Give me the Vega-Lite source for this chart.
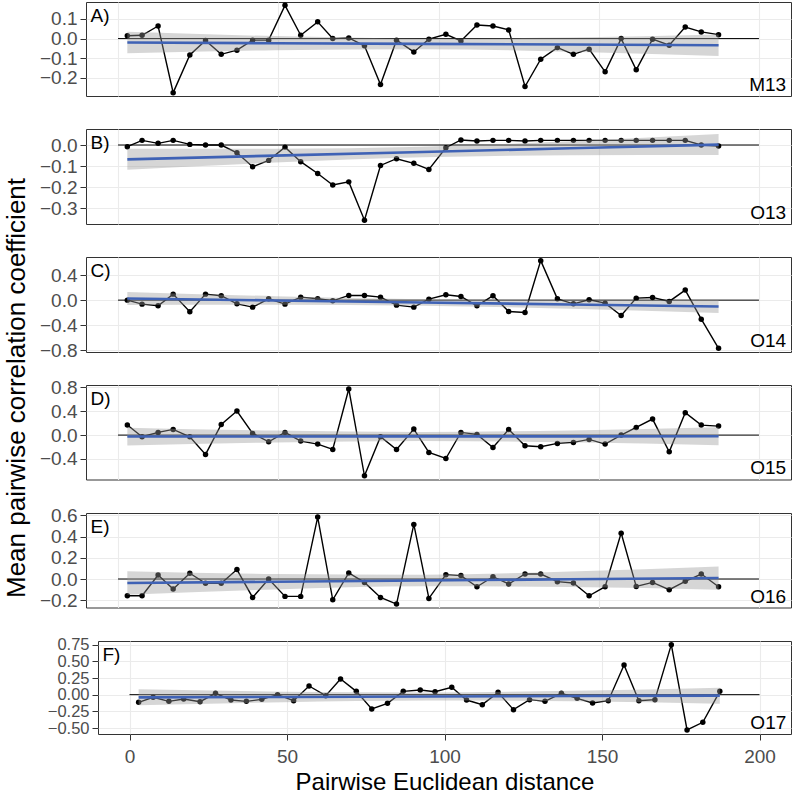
{
  "$schema": "https://vega.github.io/schema/vega-lite/v6.json",
  "padding": {"left": 3, "top": 1, "right": 2, "bottom": 0},
  "title": {"text": "Mean pairwise correlation coefficient", "orient": "left", "anchor": "middle", "fontSize": 26, "fontWeight": "normal", "font": "Liberation Sans", "color": "black", "offset": 3, "dx": 10},
  "spacing": 33,
  "bounds": "flush",
  "datasets": {
    "lab": [
      {"p": "A", "tl": "A)", "br": "M13"},
      {"p": "B", "tl": "B)", "br": "O13"},
      {"p": "C", "tl": "C)", "br": "O14"},
      {"p": "D", "tl": "D)", "br": "O15"},
      {"p": "E", "tl": "E)", "br": "O16"},
      {"p": "F", "tl": "F)", "br": "O17"}
    ],
    "fit": [
      {"p": "A", "x": 2.9, "fit": -0.020, "lo": -0.075, "hi": 0.035},
      {"p": "A", "x": 49, "fit": -0.0235, "lo": -0.0595, "hi": 0.0125},
      {"p": "A", "x": 95, "fit": -0.027, "lo": -0.0545, "hi": 0.0005},
      {"p": "A", "x": 141, "fit": -0.0305, "lo": -0.0665, "hi": 0.0055},
      {"p": "A", "x": 187.4, "fit": -0.034, "lo": -0.089, "hi": 0.021},
      {"p": "B", "x": 2.9, "fit": -0.068, "lo": -0.118, "hi": -0.018},
      {"p": "B", "x": 49, "fit": -0.0505, "lo": -0.0835, "hi": -0.0175},
      {"p": "B", "x": 95, "fit": -0.033, "lo": -0.058, "hi": -0.008},
      {"p": "B", "x": 141, "fit": -0.0156, "lo": -0.0486, "hi": 0.0174},
      {"p": "B", "x": 187.4, "fit": 0.002, "lo": -0.048, "hi": 0.052},
      {"p": "C", "x": 2.9, "fit": 0.027, "lo": -0.078, "hi": 0.132},
      {"p": "C", "x": 49, "fit": -0.005, "lo": -0.074, "hi": 0.064},
      {"p": "C", "x": 95, "fit": -0.037, "lo": -0.089, "hi": 0.015},
      {"p": "C", "x": 141, "fit": -0.070, "lo": -0.139, "hi": -0.001},
      {"p": "C", "x": 187.4, "fit": -0.102, "lo": -0.207, "hi": 0.003},
      {"p": "D", "x": 2.9, "fit": -0.025, "lo": -0.175, "hi": 0.125},
      {"p": "D", "x": 49, "fit": -0.024, "lo": -0.123, "hi": 0.075},
      {"p": "D", "x": 95, "fit": -0.0225, "lo": -0.0975, "hi": 0.0525},
      {"p": "D", "x": 141, "fit": -0.021, "lo": -0.120, "hi": 0.078},
      {"p": "D", "x": 187.4, "fit": -0.020, "lo": -0.170, "hi": 0.130},
      {"p": "E", "x": 2.9, "fit": -0.038, "lo": -0.148, "hi": 0.072},
      {"p": "E", "x": 49, "fit": -0.026, "lo": -0.099, "hi": 0.047},
      {"p": "E", "x": 95, "fit": -0.0145, "lo": -0.0695, "hi": 0.0405},
      {"p": "E", "x": 141, "fit": -0.003, "lo": -0.076, "hi": 0.070},
      {"p": "E", "x": 187.4, "fit": 0.009, "lo": -0.101, "hi": 0.119},
      {"p": "F", "x": 2.9, "fit": -0.040, "lo": -0.160, "hi": 0.080},
      {"p": "F", "x": 49, "fit": -0.034, "lo": -0.113, "hi": 0.045},
      {"p": "F", "x": 95, "fit": -0.0275, "lo": -0.0875, "hi": 0.0325},
      {"p": "F", "x": 141, "fit": -0.021, "lo": -0.100, "hi": 0.058},
      {"p": "F", "x": 187.4, "fit": -0.015, "lo": -0.135, "hi": 0.105}
    ],
    "pts": [
      {"p":"A","x":2.9,"y":0.014},{"p":"A","x":7.5,"y":0.017},{"p":"A","x":12.5,"y":0.064},{"p":"A","x":17.2,"y":-0.275},{"p":"A","x":22.4,"y":-0.083},{"p":"A","x":27.3,"y":-0.010},{"p":"A","x":32.2,"y":-0.080},{"p":"A","x":37.1,"y":-0.059},{"p":"A","x":42.0,"y":-0.008},{"p":"A","x":47.0,"y":-0.008},
      {"p":"A","x":52.1,"y":0.169},{"p":"A","x":57.0,"y":0.017},{"p":"A","x":62.3,"y":0.085},{"p":"A","x":67.0,"y":0.0},{"p":"A","x":72.0,"y":0.003},{"p":"A","x":76.9,"y":-0.037},{"p":"A","x":81.9,"y":-0.234},{"p":"A","x":86.9,"y":-0.008},{"p":"A","x":92.3,"y":-0.068},{"p":"A","x":97.0,"y":-0.003},
      {"p":"A","x":102.3,"y":0.022},{"p":"A","x":107.0,"y":-0.012},{"p":"A","x":112.0,"y":0.069},{"p":"A","x":117.0,"y":0.064},{"p":"A","x":121.9,"y":0.044},{"p":"A","x":127.0,"y":-0.244},{"p":"A","x":131.9,"y":-0.105},{"p":"A","x":137.1,"y":-0.046},{"p":"A","x":142.1,"y":-0.080},{"p":"A","x":147.0,"y":-0.054},
      {"p":"A","x":152.0,"y":-0.169},{"p":"A","x":157.0,"y":0.0},{"p":"A","x":161.7,"y":-0.159},{"p":"A","x":166.8,"y":-0.003},{"p":"A","x":172.0,"y":-0.034},{"p":"A","x":177.0,"y":0.059},{"p":"A","x":182.0,"y":0.034},{"p":"A","x":187.4,"y":0.020},
      {"p":"B","x":2.9,"y":-0.008},{"p":"B","x":7.5,"y":0.022},{"p":"B","x":12.5,"y":0.008},{"p":"B","x":17.2,"y":0.022},{"p":"B","x":22.4,"y":0.003},{"p":"B","x":27.3,"y":0.0},{"p":"B","x":32.2,"y":0.0},{"p":"B","x":37.1,"y":-0.037},{"p":"B","x":42.0,"y":-0.103},{"p":"B","x":47.0,"y":-0.073},
      {"p":"B","x":52.1,"y":-0.010},{"p":"B","x":57.0,"y":-0.079},{"p":"B","x":62.3,"y":-0.135},{"p":"B","x":67.0,"y":-0.190},{"p":"B","x":72.0,"y":-0.175},{"p":"B","x":76.9,"y":-0.357},{"p":"B","x":81.9,"y":-0.097},{"p":"B","x":86.9,"y":-0.065},{"p":"B","x":92.3,"y":-0.087},{"p":"B","x":97.0,"y":-0.116},
      {"p":"B","x":102.3,"y":-0.013},{"p":"B","x":107.0,"y":0.024},{"p":"B","x":112.0,"y":0.019},{"p":"B","x":117.0,"y":0.022},{"p":"B","x":121.9,"y":0.022},{"p":"B","x":127.0,"y":0.019},{"p":"B","x":131.9,"y":0.022},{"p":"B","x":137.1,"y":0.022},{"p":"B","x":142.1,"y":0.022},{"p":"B","x":147.0,"y":0.022},
      {"p":"B","x":152.0,"y":0.022},{"p":"B","x":157.0,"y":0.022},{"p":"B","x":161.7,"y":0.022},{"p":"B","x":166.8,"y":0.022},{"p":"B","x":172.0,"y":0.022},{"p":"B","x":177.0,"y":0.022},{"p":"B","x":182.0,"y":0.0},{"p":"B","x":187.4,"y":-0.005},
      {"p":"C","x":2.9,"y":0.0},{"p":"C","x":7.5,"y":-0.064},{"p":"C","x":12.5,"y":-0.091},{"p":"C","x":17.2,"y":0.096},{"p":"C","x":22.4,"y":-0.187},{"p":"C","x":27.3,"y":0.096},{"p":"C","x":32.2,"y":0.070},{"p":"C","x":37.1,"y":-0.059},{"p":"C","x":42.0,"y":-0.112},{"p":"C","x":47.0,"y":0.021},
      {"p":"C","x":52.1,"y":-0.064},{"p":"C","x":57.0,"y":0.048},{"p":"C","x":62.3,"y":0.021},{"p":"C","x":67.0,"y":-0.011},{"p":"C","x":72.0,"y":0.075},{"p":"C","x":76.9,"y":0.075},{"p":"C","x":81.9,"y":0.048},{"p":"C","x":86.9,"y":-0.080},{"p":"C","x":92.3,"y":-0.112},{"p":"C","x":97.0,"y":0.016},
      {"p":"C","x":102.3,"y":0.086},{"p":"C","x":107.0,"y":0.059},{"p":"C","x":112.0,"y":-0.091},{"p":"C","x":117.0,"y":0.070},{"p":"C","x":121.9,"y":-0.182},{"p":"C","x":127.0,"y":-0.198},{"p":"C","x":131.9,"y":0.632},{"p":"C","x":137.1,"y":0.021},{"p":"C","x":142.1,"y":-0.059},{"p":"C","x":147.0,"y":0.005},
      {"p":"C","x":152.0,"y":-0.048},{"p":"C","x":157.0,"y":-0.246},{"p":"C","x":161.7,"y":0.032},{"p":"C","x":166.8,"y":0.043},{"p":"C","x":172.0,"y":-0.021},{"p":"C","x":177.0,"y":0.161},{"p":"C","x":182.0,"y":-0.305},{"p":"C","x":187.4,"y":-0.771},
      {"p":"D","x":2.9,"y":0.168},{"p":"D","x":7.5,"y":-0.028},{"p":"D","x":12.5,"y":0.045},{"p":"D","x":17.2,"y":0.095},{"p":"D","x":22.4,"y":-0.028},{"p":"D","x":27.3,"y":-0.325},{"p":"D","x":32.2,"y":0.179},{"p":"D","x":37.1,"y":0.404},{"p":"D","x":42.0,"y":0.028},{"p":"D","x":47.0,"y":-0.112},
      {"p":"D","x":52.1,"y":0.045},{"p":"D","x":57.0,"y":-0.101},{"p":"D","x":62.3,"y":-0.151},{"p":"D","x":67.0,"y":-0.241},{"p":"D","x":72.0,"y":0.774},{"p":"D","x":76.9,"y":-0.684},{"p":"D","x":81.9,"y":-0.028},{"p":"D","x":86.9,"y":-0.241},{"p":"D","x":92.3,"y":0.101},{"p":"D","x":97.0,"y":-0.292},
      {"p":"D","x":102.3,"y":-0.393},{"p":"D","x":107.0,"y":0.045},{"p":"D","x":112.0,"y":0.011},{"p":"D","x":117.0,"y":-0.208},{"p":"D","x":121.9,"y":0.095},{"p":"D","x":127.0,"y":-0.179},{"p":"D","x":131.9,"y":-0.196},{"p":"D","x":137.1,"y":-0.140},{"p":"D","x":142.1,"y":-0.123},{"p":"D","x":147.0,"y":-0.073},
      {"p":"D","x":152.0,"y":-0.151},{"p":"D","x":157.0,"y":0.0},{"p":"D","x":161.7,"y":0.129},{"p":"D","x":166.8,"y":0.269},{"p":"D","x":172.0,"y":-0.280},{"p":"D","x":177.0,"y":0.376},{"p":"D","x":182.0,"y":0.168},{"p":"D","x":187.4,"y":0.151},
      {"p":"E","x":2.9,"y":-0.158},{"p":"E","x":7.5,"y":-0.158},{"p":"E","x":12.5,"y":0.038},{"p":"E","x":17.2,"y":-0.095},{"p":"E","x":22.4,"y":0.054},{"p":"E","x":27.3,"y":-0.041},{"p":"E","x":32.2,"y":-0.041},{"p":"E","x":37.1,"y":0.089},{"p":"E","x":42.0,"y":-0.174},{"p":"E","x":47.0,"y":0.0},
      {"p":"E","x":52.1,"y":-0.164},{"p":"E","x":57.0,"y":-0.164},{"p":"E","x":62.3,"y":0.585},{"p":"E","x":67.0,"y":-0.196},{"p":"E","x":72.0,"y":0.057},{"p":"E","x":76.9,"y":-0.032},{"p":"E","x":81.9,"y":-0.174},{"p":"E","x":86.9,"y":-0.237},{"p":"E","x":92.3,"y":0.515},{"p":"E","x":97.0,"y":-0.183},
      {"p":"E","x":102.3,"y":0.041},{"p":"E","x":107.0,"y":0.032},{"p":"E","x":112.0,"y":-0.073},{"p":"E","x":117.0,"y":0.022},{"p":"E","x":121.9,"y":-0.047},{"p":"E","x":127.0,"y":0.047},{"p":"E","x":131.9,"y":0.047},{"p":"E","x":137.1,"y":-0.025},{"p":"E","x":142.1,"y":-0.038},{"p":"E","x":147.0,"y":-0.158},
      {"p":"E","x":152.0,"y":-0.073},{"p":"E","x":157.0,"y":0.433},{"p":"E","x":161.7,"y":-0.070},{"p":"E","x":166.8,"y":-0.032},{"p":"E","x":172.0,"y":-0.101},{"p":"E","x":177.0,"y":-0.022},{"p":"E","x":182.0,"y":0.047},{"p":"E","x":187.4,"y":-0.073},
      {"p":"F","x":2.9,"y":-0.115},{"p":"F","x":7.5,"y":-0.04},{"p":"F","x":12.5,"y":-0.10},{"p":"F","x":17.2,"y":-0.065},{"p":"F","x":22.4,"y":-0.105},{"p":"F","x":27.3,"y":0.02},{"p":"F","x":32.2,"y":-0.08},{"p":"F","x":37.1,"y":-0.10},{"p":"F","x":42.0,"y":-0.07},{"p":"F","x":47.0,"y":0.0},
      {"p":"F","x":52.1,"y":-0.09},{"p":"F","x":57.0,"y":0.13},{"p":"F","x":62.3,"y":-0.015},{"p":"F","x":67.0,"y":0.235},{"p":"F","x":72.0,"y":0.05},{"p":"F","x":76.9,"y":-0.215},{"p":"F","x":81.9,"y":-0.13},{"p":"F","x":86.9,"y":0.05},{"p":"F","x":92.3,"y":0.07},{"p":"F","x":97.0,"y":0.045},
      {"p":"F","x":102.3,"y":0.11},{"p":"F","x":107.0,"y":-0.08},{"p":"F","x":112.0,"y":-0.15},{"p":"F","x":117.0,"y":0.035},{"p":"F","x":121.9,"y":-0.225},{"p":"F","x":127.0,"y":-0.075},{"p":"F","x":131.9,"y":-0.10},{"p":"F","x":137.1,"y":0.02},{"p":"F","x":142.1,"y":-0.055},{"p":"F","x":147.0,"y":-0.125},
      {"p":"F","x":152.0,"y":-0.09},{"p":"F","x":157.0,"y":0.445},{"p":"F","x":161.7,"y":-0.09},{"p":"F","x":166.8,"y":-0.075},{"p":"F","x":172.0,"y":0.75},{"p":"F","x":177.0,"y":-0.53},{"p":"F","x":182.0,"y":-0.415},{"p":"F","x":187.4,"y":0.05}
    ]
  },
  "vconcat": [
    {
      "width": 705, "height": 94,
      "resolve": {"axis": {"x": "independent", "y": "independent"}},
      "layer": [
        {"data": {"name": "lab"}, "transform": [{"filter": "datum.p=='A'"}], "mark": {"type": "rule", "color": "black", "strokeWidth": 1},
         "encoding": {
           "x": {"datum": 0, "type": "quantitative", "scale": {"domain": [-10, 210], "nice": false}, "axis": {"values": [0,50,100,150,200], "labels": false, "ticks": false, "title": null, "gridWidth": 1.1}},
           "x2": {"datum": 200},
           "y": {"datum": 0, "type": "quantitative", "scale": {"domain": [-0.292, 0.186], "nice": false}, "axis": {"values": [-0.2,-0.1,0,0.1], "format": ".1f", "title": null, "labelOverlap": false, "minExtent": 53, "maxExtent": 53, "gridWidth": 1.1}}
         }},
        {"data": {"name": "pts"}, "transform": [{"filter": "datum.p=='A'"}], "mark": {"type": "line", "color": "black", "strokeWidth": 1.4}, "encoding": {"x": {"field": "x", "type": "quantitative", "axis": null}, "y": {"field": "y", "type": "quantitative", "axis": null}}},
        {"data": {"name": "pts"}, "transform": [{"filter": "datum.p=='A'"}], "mark": {"type": "circle", "color": "black", "size": 30, "opacity": 1}, "encoding": {"x": {"field": "x", "type": "quantitative", "axis": null}, "y": {"field": "y", "type": "quantitative", "axis": null}}},
        {"data": {"name": "fit"}, "transform": [{"filter": "datum.p=='A'"}], "mark": {"type": "area", "color": "#999999", "opacity": 0.4, "interpolate": "monotone"}, "encoding": {"x": {"field": "x", "type": "quantitative", "axis": null}, "y": {"field": "lo", "type": "quantitative", "axis": null}, "y2": {"field": "hi"}}},
        {"data": {"name": "fit"}, "transform": [{"filter": "datum.p=='A'"}], "mark": {"type": "line", "color": "#3F62B5", "strokeWidth": 2.6}, "encoding": {"x": {"field": "x", "type": "quantitative", "axis": null}, "y": {"field": "fit", "type": "quantitative", "axis": null}}},
        {"data": {"name": "lab"}, "transform": [{"filter": "datum.p=='A'"}], "mark": {"type": "text", "align": "left", "baseline": "alphabetic", "fontSize": 19, "color": "black", "font": "Liberation Sans"},
         "encoding": {"text": {"field": "tl"},
           "x": {"datum": -8.6, "axis": {"orient": "top", "values": [25,75,125,175], "labels": false, "ticks": false, "title": null, "gridWidth": 0.55, "minExtent": 0, "maxExtent": 0}},
           "y": {"datum": 0.084, "axis": {"orient": "right", "values": [-0.25,-0.15,-0.05,0.05,0.15], "labels": false, "ticks": false, "title": null, "gridWidth": 0.55, "minExtent": 0, "maxExtent": 0}}}},
        {"data": {"name": "lab"}, "transform": [{"filter": "datum.p=='A'"}], "mark": {"type": "text", "align": "right", "baseline": "alphabetic", "fontSize": 19, "color": "black", "font": "Liberation Sans"}, "encoding": {"text": {"field": "br"}, "x": {"datum": 208.5, "axis": null}, "y": {"datum": -0.267, "axis": null}}}
      ]
    },
    {
      "width": 705, "height": 95,
      "resolve": {"axis": {"x": "independent", "y": "independent"}},
      "layer": [
        {"data": {"name": "lab"}, "transform": [{"filter": "datum.p=='B'"}], "mark": {"type": "rule", "color": "black", "strokeWidth": 1},
         "encoding": {
           "x": {"datum": 0, "type": "quantitative", "scale": {"domain": [-10, 210], "nice": false}, "axis": {"values": [0,50,100,150,200], "labels": false, "ticks": false, "title": null, "gridWidth": 1.1}},
           "x2": {"datum": 200},
           "y": {"datum": 0, "type": "quantitative", "scale": {"domain": [-0.375, 0.076], "nice": false}, "axis": {"values": [-0.3,-0.2,-0.1,0], "format": ".1f", "title": null, "labelOverlap": false, "minExtent": 53, "maxExtent": 53, "gridWidth": 1.1}}
         }},
        {"data": {"name": "pts"}, "transform": [{"filter": "datum.p=='B'"}], "mark": {"type": "line", "color": "black", "strokeWidth": 1.4}, "encoding": {"x": {"field": "x", "type": "quantitative", "axis": null}, "y": {"field": "y", "type": "quantitative", "axis": null}}},
        {"data": {"name": "pts"}, "transform": [{"filter": "datum.p=='B'"}], "mark": {"type": "circle", "color": "black", "size": 30, "opacity": 1}, "encoding": {"x": {"field": "x", "type": "quantitative", "axis": null}, "y": {"field": "y", "type": "quantitative", "axis": null}}},
        {"data": {"name": "fit"}, "transform": [{"filter": "datum.p=='B'"}], "mark": {"type": "area", "color": "#999999", "opacity": 0.4, "interpolate": "monotone"}, "encoding": {"x": {"field": "x", "type": "quantitative", "axis": null}, "y": {"field": "lo", "type": "quantitative", "axis": null}, "y2": {"field": "hi"}}},
        {"data": {"name": "fit"}, "transform": [{"filter": "datum.p=='B'"}], "mark": {"type": "line", "color": "#3F62B5", "strokeWidth": 2.6}, "encoding": {"x": {"field": "x", "type": "quantitative", "axis": null}, "y": {"field": "fit", "type": "quantitative", "axis": null}}},
        {"data": {"name": "lab"}, "transform": [{"filter": "datum.p=='B'"}], "mark": {"type": "text", "align": "left", "baseline": "alphabetic", "fontSize": 19, "color": "black", "font": "Liberation Sans"},
         "encoding": {"text": {"field": "tl"},
           "x": {"datum": -8.6, "axis": {"orient": "top", "values": [25,75,125,175], "labels": false, "ticks": false, "title": null, "gridWidth": 0.55, "minExtent": 0, "maxExtent": 0}},
           "y": {"datum": -0.020, "axis": {"orient": "right", "values": [-0.35,-0.25,-0.15,-0.05,0.05], "labels": false, "ticks": false, "title": null, "gridWidth": 0.55, "minExtent": 0, "maxExtent": 0}}}},
        {"data": {"name": "lab"}, "transform": [{"filter": "datum.p=='B'"}], "mark": {"type": "text", "align": "right", "baseline": "alphabetic", "fontSize": 19, "color": "black", "font": "Liberation Sans"}, "encoding": {"text": {"field": "br"}, "x": {"datum": 208.5, "axis": null}, "y": {"datum": -0.351, "axis": null}}}
      ]
    },
    {
      "width": 705, "height": 95,
      "resolve": {"axis": {"x": "independent", "y": "independent"}},
      "layer": [
        {"data": {"name": "lab"}, "transform": [{"filter": "datum.p=='C'"}], "mark": {"type": "rule", "color": "black", "strokeWidth": 1},
         "encoding": {
           "x": {"datum": 0, "type": "quantitative", "scale": {"domain": [-10, 210], "nice": false}, "axis": {"values": [0,50,100,150,200], "labels": false, "ticks": false, "title": null, "gridWidth": 1.1}},
           "x2": {"datum": 200},
           "y": {"datum": 0, "type": "quantitative", "scale": {"domain": [-0.83, 0.69], "nice": false}, "axis": {"values": [-0.8,-0.4,0,0.4], "format": ".1f", "title": null, "labelOverlap": false, "minExtent": 53, "maxExtent": 53, "gridWidth": 1.1}}
         }},
        {"data": {"name": "pts"}, "transform": [{"filter": "datum.p=='C'"}], "mark": {"type": "line", "color": "black", "strokeWidth": 1.4}, "encoding": {"x": {"field": "x", "type": "quantitative", "axis": null}, "y": {"field": "y", "type": "quantitative", "axis": null}}},
        {"data": {"name": "pts"}, "transform": [{"filter": "datum.p=='C'"}], "mark": {"type": "circle", "color": "black", "size": 30, "opacity": 1}, "encoding": {"x": {"field": "x", "type": "quantitative", "axis": null}, "y": {"field": "y", "type": "quantitative", "axis": null}}},
        {"data": {"name": "fit"}, "transform": [{"filter": "datum.p=='C'"}], "mark": {"type": "area", "color": "#999999", "opacity": 0.4, "interpolate": "monotone"}, "encoding": {"x": {"field": "x", "type": "quantitative", "axis": null}, "y": {"field": "lo", "type": "quantitative", "axis": null}, "y2": {"field": "hi"}}},
        {"data": {"name": "fit"}, "transform": [{"filter": "datum.p=='C'"}], "mark": {"type": "line", "color": "#3F62B5", "strokeWidth": 2.6}, "encoding": {"x": {"field": "x", "type": "quantitative", "axis": null}, "y": {"field": "fit", "type": "quantitative", "axis": null}}},
        {"data": {"name": "lab"}, "transform": [{"filter": "datum.p=='C'"}], "mark": {"type": "text", "align": "left", "baseline": "alphabetic", "fontSize": 19, "color": "black", "font": "Liberation Sans"},
         "encoding": {"text": {"field": "tl"},
           "x": {"datum": -8.6, "axis": {"orient": "top", "values": [25,75,125,175], "labels": false, "ticks": false, "title": null, "gridWidth": 0.55, "minExtent": 0, "maxExtent": 0}},
           "y": {"datum": 0.367, "axis": {"orient": "right", "values": [-0.6,-0.2,0.2,0.6], "labels": false, "ticks": false, "title": null, "gridWidth": 0.55, "minExtent": 0, "maxExtent": 0}}}},
        {"data": {"name": "lab"}, "transform": [{"filter": "datum.p=='C'"}], "mark": {"type": "text", "align": "right", "baseline": "alphabetic", "fontSize": 19, "color": "black", "font": "Liberation Sans"}, "encoding": {"text": {"field": "br"}, "x": {"datum": 208.5, "axis": null}, "y": {"datum": -0.749, "axis": null}}}
      ]
    },
    {
      "width": 705, "height": 94.5,
      "resolve": {"axis": {"x": "independent", "y": "independent"}},
      "layer": [
        {"data": {"name": "lab"}, "transform": [{"filter": "datum.p=='D'"}], "mark": {"type": "rule", "color": "black", "strokeWidth": 1},
         "encoding": {
           "x": {"datum": 0, "type": "quantitative", "scale": {"domain": [-10, 210], "nice": false}, "axis": {"values": [0,50,100,150,200], "labels": false, "ticks": false, "title": null, "gridWidth": 1.1}},
           "x2": {"datum": 200},
           "y": {"datum": 0, "type": "quantitative", "scale": {"domain": [-0.746, 0.841], "nice": false}, "axis": {"values": [-0.4,0,0.4,0.8], "format": ".1f", "title": null, "labelOverlap": false, "minExtent": 53, "maxExtent": 53, "gridWidth": 1.1}}
         }},
        {"data": {"name": "pts"}, "transform": [{"filter": "datum.p=='D'"}], "mark": {"type": "line", "color": "black", "strokeWidth": 1.4}, "encoding": {"x": {"field": "x", "type": "quantitative", "axis": null}, "y": {"field": "y", "type": "quantitative", "axis": null}}},
        {"data": {"name": "pts"}, "transform": [{"filter": "datum.p=='D'"}], "mark": {"type": "circle", "color": "black", "size": 30, "opacity": 1}, "encoding": {"x": {"field": "x", "type": "quantitative", "axis": null}, "y": {"field": "y", "type": "quantitative", "axis": null}}},
        {"data": {"name": "fit"}, "transform": [{"filter": "datum.p=='D'"}], "mark": {"type": "area", "color": "#999999", "opacity": 0.4, "interpolate": "monotone"}, "encoding": {"x": {"field": "x", "type": "quantitative", "axis": null}, "y": {"field": "lo", "type": "quantitative", "axis": null}, "y2": {"field": "hi"}}},
        {"data": {"name": "fit"}, "transform": [{"filter": "datum.p=='D'"}], "mark": {"type": "line", "color": "#3F62B5", "strokeWidth": 2.6}, "encoding": {"x": {"field": "x", "type": "quantitative", "axis": null}, "y": {"field": "fit", "type": "quantitative", "axis": null}}},
        {"data": {"name": "lab"}, "transform": [{"filter": "datum.p=='D'"}], "mark": {"type": "text", "align": "left", "baseline": "alphabetic", "fontSize": 19, "color": "black", "font": "Liberation Sans"},
         "encoding": {"text": {"field": "tl"},
           "x": {"datum": -8.6, "axis": {"orient": "top", "values": [25,75,125,175], "labels": false, "ticks": false, "title": null, "gridWidth": 0.55, "minExtent": 0, "maxExtent": 0}},
           "y": {"datum": 0.503, "axis": {"orient": "right", "values": [-0.6,-0.2,0.2,0.6], "labels": false, "ticks": false, "title": null, "gridWidth": 0.55, "minExtent": 0, "maxExtent": 0}}}},
        {"data": {"name": "lab"}, "transform": [{"filter": "datum.p=='D'"}], "mark": {"type": "text", "align": "right", "baseline": "alphabetic", "fontSize": 19, "color": "black", "font": "Liberation Sans"}, "encoding": {"text": {"field": "br"}, "x": {"datum": 208.5, "axis": null}, "y": {"datum": -0.662, "axis": null}}}
      ]
    },
    {
      "width": 705, "height": 94.5,
      "resolve": {"axis": {"x": "independent", "y": "independent"}},
      "layer": [
        {"data": {"name": "lab"}, "transform": [{"filter": "datum.p=='E'"}], "mark": {"type": "rule", "color": "black", "strokeWidth": 1},
         "encoding": {
           "x": {"datum": 0, "type": "quantitative", "scale": {"domain": [-10, 210], "nice": false}, "axis": {"values": [0,50,100,150,200], "labels": false, "ticks": false, "title": null, "gridWidth": 1.1}},
           "x2": {"datum": 200},
           "y": {"datum": 0, "type": "quantitative", "scale": {"domain": [-0.269, 0.623], "nice": false}, "axis": {"values": [-0.2,0,0.2,0.4,0.6], "format": ".1f", "title": null, "labelOverlap": false, "minExtent": 53, "maxExtent": 53, "gridWidth": 1.1}}
         }},
        {"data": {"name": "pts"}, "transform": [{"filter": "datum.p=='E'"}], "mark": {"type": "line", "color": "black", "strokeWidth": 1.4}, "encoding": {"x": {"field": "x", "type": "quantitative", "axis": null}, "y": {"field": "y", "type": "quantitative", "axis": null}}},
        {"data": {"name": "pts"}, "transform": [{"filter": "datum.p=='E'"}], "mark": {"type": "circle", "color": "black", "size": 30, "opacity": 1}, "encoding": {"x": {"field": "x", "type": "quantitative", "axis": null}, "y": {"field": "y", "type": "quantitative", "axis": null}}},
        {"data": {"name": "fit"}, "transform": [{"filter": "datum.p=='E'"}], "mark": {"type": "area", "color": "#999999", "opacity": 0.4, "interpolate": "monotone"}, "encoding": {"x": {"field": "x", "type": "quantitative", "axis": null}, "y": {"field": "lo", "type": "quantitative", "axis": null}, "y2": {"field": "hi"}}},
        {"data": {"name": "fit"}, "transform": [{"filter": "datum.p=='E'"}], "mark": {"type": "line", "color": "#3F62B5", "strokeWidth": 2.6}, "encoding": {"x": {"field": "x", "type": "quantitative", "axis": null}, "y": {"field": "fit", "type": "quantitative", "axis": null}}},
        {"data": {"name": "lab"}, "transform": [{"filter": "datum.p=='E'"}], "mark": {"type": "text", "align": "left", "baseline": "alphabetic", "fontSize": 19, "color": "black", "font": "Liberation Sans"},
         "encoding": {"text": {"field": "tl"},
           "x": {"datum": -8.6, "axis": {"orient": "top", "values": [25,75,125,175], "labels": false, "ticks": false, "title": null, "gridWidth": 0.55, "minExtent": 0, "maxExtent": 0}},
           "y": {"datum": 0.433, "axis": {"orient": "right", "values": [-0.1,0.1,0.3,0.5], "labels": false, "ticks": false, "title": null, "gridWidth": 0.55, "minExtent": 0, "maxExtent": 0}}}},
        {"data": {"name": "lab"}, "transform": [{"filter": "datum.p=='E'"}], "mark": {"type": "text", "align": "right", "baseline": "alphabetic", "fontSize": 19, "color": "black", "font": "Liberation Sans"}, "encoding": {"text": {"field": "br"}, "x": {"datum": 208.5, "axis": null}, "y": {"datum": -0.222, "axis": null}}}
      ]
    },
    {
      "bounds": "flush",
      "spacing": 11,
      "hconcat": [
        {"width": 1, "height": 93, "data": {"values": []}, "mark": {"type": "point"}, "encoding": {}, "view": {"stroke": null}},
        {
          "width": 693, "height": 93,
          "resolve": {"axis": {"x": "independent", "y": "independent"}},
          "layer": [
            {"data": {"name": "lab"}, "transform": [{"filter": "datum.p=='F'"}], "mark": {"type": "rule", "color": "black", "strokeWidth": 1},
             "encoding": {
               "x": {"datum": 0, "type": "quantitative", "scale": {"domain": [-10, 210], "nice": false}, "axis": {"values": [0,50,100,150,200], "format": "d", "title": "Pairwise Euclidean distance", "titleFontSize": 24, "labelOverlap": false, "labelPadding": 7, "titlePadding": 4, "gridWidth": 1.1}},
               "x2": {"datum": 200},
               "y": {"datum": 0, "type": "quantitative", "scale": {"domain": [-0.59, 0.805], "nice": false}, "axis": {"values": [-0.5,-0.25,0,0.25,0.5,0.75], "format": ".2f", "title": null, "labelFontSize": 16.5, "labelOverlap": false, "minExtent": 65, "maxExtent": 65, "gridWidth": 1.1}}
             }},
            {"data": {"name": "pts"}, "transform": [{"filter": "datum.p=='F'"}], "mark": {"type": "line", "color": "black", "strokeWidth": 1.4}, "encoding": {"x": {"field": "x", "type": "quantitative", "axis": null}, "y": {"field": "y", "type": "quantitative", "axis": null}}},
            {"data": {"name": "pts"}, "transform": [{"filter": "datum.p=='F'"}], "mark": {"type": "circle", "color": "black", "size": 30, "opacity": 1}, "encoding": {"x": {"field": "x", "type": "quantitative", "axis": null}, "y": {"field": "y", "type": "quantitative", "axis": null}}},
            {"data": {"name": "fit"}, "transform": [{"filter": "datum.p=='F'"}], "mark": {"type": "area", "color": "#999999", "opacity": 0.4, "interpolate": "monotone"}, "encoding": {"x": {"field": "x", "type": "quantitative", "axis": null}, "y": {"field": "lo", "type": "quantitative", "axis": null}, "y2": {"field": "hi"}}},
            {"data": {"name": "fit"}, "transform": [{"filter": "datum.p=='F'"}], "mark": {"type": "line", "color": "#3F62B5", "strokeWidth": 2.6}, "encoding": {"x": {"field": "x", "type": "quantitative", "axis": null}, "y": {"field": "fit", "type": "quantitative", "axis": null}}},
            {"data": {"name": "lab"}, "transform": [{"filter": "datum.p=='F'"}], "mark": {"type": "text", "align": "left", "baseline": "alphabetic", "fontSize": 19, "color": "black", "font": "Liberation Sans"},
             "encoding": {"text": {"field": "tl"},
               "x": {"datum": -8.6, "axis": {"orient": "top", "values": [25,75,125,175], "labels": false, "ticks": false, "title": null, "gridWidth": 0.55, "minExtent": 0, "maxExtent": 0}},
               "y": {"datum": 0.505, "axis": {"orient": "right", "values": [-0.375,-0.125,0.125,0.375,0.625], "labels": false, "ticks": false, "title": null, "gridWidth": 0.55, "minExtent": 0, "maxExtent": 0}}}},
            {"data": {"name": "lab"}, "transform": [{"filter": "datum.p=='F'"}], "mark": {"type": "text", "align": "right", "baseline": "alphabetic", "fontSize": 19, "color": "black", "font": "Liberation Sans"}, "encoding": {"text": {"field": "br"}, "x": {"datum": 208.5, "axis": null}, "y": {"datum": -0.515, "axis": null}}}
          ]
        }
      ]
    }
  ],
  "config": {
    "font": "Liberation Sans",
    "view": {"stroke": "#333333", "strokeWidth": 1},
    "axis": {"grid": true, "gridColor": "#EBEBEB", "domain": false, "tickColor": "#333333", "tickSize": 6, "tickWidth": 1, "labelFontSize": 19, "labelColor": "#4D4D4D", "labelFont": "Liberation Sans", "labelPadding": 3, "labelOverlap": false, "labelFlush": false, "titleFont": "Liberation Sans", "titleFontWeight": "normal", "titleColor": "black", "titleFontSize": 24}
  }
}
